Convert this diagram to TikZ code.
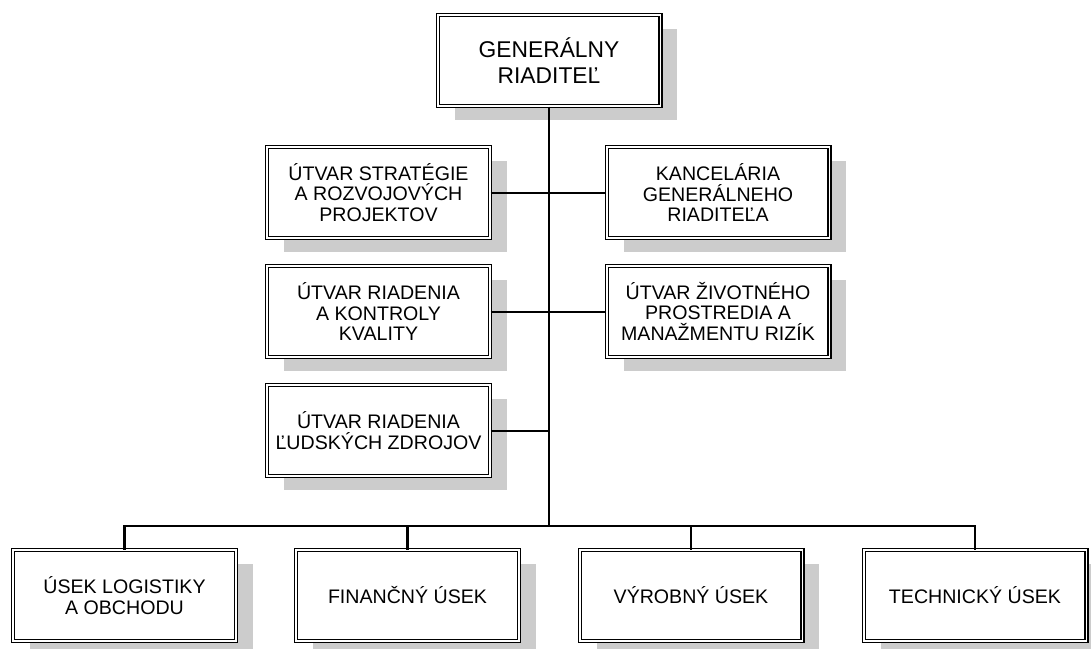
\documentclass[tikz,border=0pt]{standalone}
\usepackage{fontspec}
\setmainfont{Liberation Sans}
\usetikzlibrary{shadows}
\tikzset{
  >=latex,
}
\tikzstyle{unit}=[draw,double,line width=1.2pt,double distance=1.8pt,fill=white,
  minimum width=222.8pt,minimum height=90.8pt,inner sep=2pt,align=center,
  font=\fontsize{19.6}{20.2}\selectfont,
  drop shadow={shadow xshift=17pt,shadow yshift=-14pt,fill=black!20,opacity=1}]
\tikzstyle{boss}=[unit,font=\fontsize{22.8}{26.7}\selectfont]
\tikzstyle{link}=[line width=2.7pt]
\tikzstyle{side}=[line width=2pt]

\begin{document}
\begin{tikzpicture}[x=1pt,y=-1pt]
    \useasboundingbox (0,0) rectangle (1091,648);
    \node[boss] (gr) at (549,60.5) {GENERÁLNY\\RIADITEĽ};
    \node[unit] (strat) at (378.5,192.5) {ÚTVAR STRATÉGIE\\A ROZVOJOVÝCH\\PROJEKTOV};
    \node[unit] (kval) at (378.5,311.5) {ÚTVAR RIADENIA\\A KONTROLY\\KVALITY};
    \node[unit] (ludia) at (378.5,430.5) {ÚTVAR RIADENIA\\ĽUDSKÝCH ZDROJOV};
    \node[unit] (kanc) at (718,192.5) {KANCELÁRIA\\GENERÁLNEHO\\RIADITEĽA};
    \node[unit] (env) at (718,311.5) {ÚTVAR ŽIVOTNÉHO\\PROSTREDIA A\\MANAŽMENTU RIZÍK};
    \node[unit] (log) at (124.5,595.5) {ÚSEK LOGISTIKY\\A OBCHODU};
    \node[unit] (fin) at (407.5,595.5) {FINANČNÝ ÚSEK};
    \node[unit] (vyr) at (691,595.5) {VÝROBNÝ ÚSEK};
    \node[unit] (tech) at (975,595.5) {TECHNICKÝ ÚSEK};
    \coordinate (bus) at (549,526);
    \draw[link] (gr.south) -- (bus);
    \draw[side] (strat.east) -- (kanc.west);
    \draw[side] (kval.east) -- (env.west);
    \draw[side] (ludia.east) -- (ludia.east -| bus);
    \draw[link] (log.north) |- (bus) -| (tech.north);
    \draw[link] (fin.north) -- (fin.north |- bus);
    \draw[link] (vyr.north) -- (vyr.north |- bus);
\end{tikzpicture}
\end{document}
